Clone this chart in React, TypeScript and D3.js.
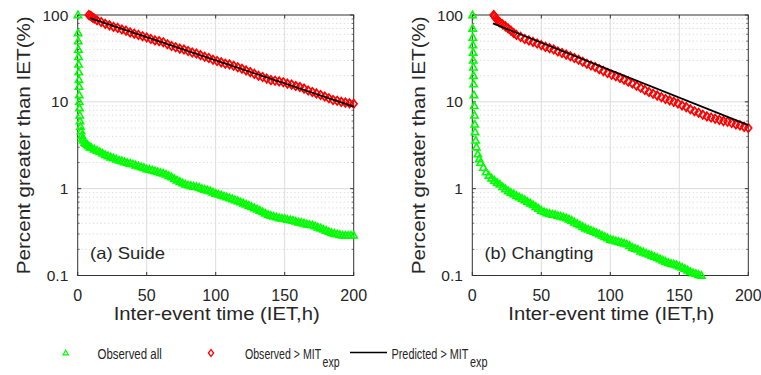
import React from "react";
import * as d3 from "d3";

type Pt = [number, number];

// (a) Suide — observed all events (hours, percent greater than IET)
const suideObservedAll: Pt[] = [
  [0.2, 100], [0.3, 62], [0.4, 50], [0.5, 40], [0.6, 33], [0.7, 27], [0.8, 22], [0.9, 18], [1.0, 15], [1.1, 12], [1.2, 10], [1.3, 8.5],
  [1.5, 7], [1.7, 6], [2, 5.2], [2.4, 4.6], [3, 4.1], [3.5, 3.8], [4, 3.6],
  [5, 3.4], [6, 3.3], [7, 3.2], [8, 3.1], [9, 3.0], [10, 2.95],
  [12, 2.85], [14, 2.75], [16, 2.65], [18, 2.55], [20, 2.45], [22, 2.38], [24, 2.3], [26, 2.25], [28, 2.18], [30, 2.12],
  [32, 2.08], [34, 2.03], [36, 1.98], [38, 1.95], [40, 1.92], [42, 1.86], [44, 1.82], [46, 1.78], [48, 1.74], [50, 1.68],
  [52, 1.66], [54, 1.63], [56, 1.6], [58, 1.56], [60, 1.52], [62, 1.5], [64, 1.46], [66, 1.41], [68, 1.36], [70, 1.3],
  [72, 1.25], [74, 1.2], [76, 1.16], [78, 1.12], [80, 1.1], [82, 1.08], [84, 1.06], [86, 1.05], [88, 1.03], [90, 1.0],
  [92, 0.98], [94, 0.96], [96, 0.94], [98, 0.91], [100, 0.88], [102, 0.86], [104, 0.84], [106, 0.82], [108, 0.8], [110, 0.78],
  [112, 0.76], [114, 0.74], [116, 0.72], [118, 0.7], [120, 0.68], [122, 0.66], [124, 0.64], [126, 0.62], [128, 0.6], [130, 0.58],
  [132, 0.56], [134, 0.54], [136, 0.52], [138, 0.5], [140, 0.49], [142, 0.48], [144, 0.47], [146, 0.46], [148, 0.455], [150, 0.45],
  [152, 0.44], [154, 0.435], [156, 0.43], [158, 0.42], [160, 0.41], [162, 0.405], [164, 0.4], [166, 0.39], [168, 0.385], [170, 0.38],
  [172, 0.37], [174, 0.36], [176, 0.35], [178, 0.34], [180, 0.33], [182, 0.32], [184, 0.31], [186, 0.305], [188, 0.3], [190, 0.295],
  [192, 0.29], [194, 0.29], [196, 0.29], [198, 0.29], [200, 0.29],
];

// (a) Suide — observed > MIT_exp
const suideObservedMit: Pt[] = [
  [8, 100], [9, 98], [10, 96], [11, 93], [12, 91], [14, 87], [17, 83], [20, 79], [23, 76], [26, 73], [29, 71], [32, 68],
  [35, 66], [38, 63], [41, 61], [44, 59], [47, 57], [50, 55], [53, 53], [56, 51], [59, 50], [62, 48.5], [65, 46], [68, 44],
  [71, 42.5], [74, 41], [77, 40], [80, 38.5], [83, 37], [86, 36], [89, 34.5], [92, 33], [95, 32], [98, 30.5], [101, 29.5],
  [104, 28.5], [107, 27.5], [110, 27], [113, 26], [116, 25], [119, 24], [122, 23], [125, 22], [128, 21], [131, 20], [134, 19.3],
  [137, 18.5], [140, 17.8], [143, 17.5], [146, 17.2], [149, 16.8], [152, 16.2], [155, 15.8], [158, 15.2], [161, 14.8], [164, 14.2],
  [167, 13.5], [170, 13], [173, 12.5], [176, 12], [179, 11.5], [182, 11], [185, 10.5], [188, 10.3], [191, 10], [194, 9.8],
  [197, 9.6], [200, 9.5],
];

// (a) Suide — predicted > MIT_exp
const suidePredicted: Pt[] = [[9, 92], [200, 8.8]];

// (b) Changting — observed all events
const changtingObservedAll: Pt[] = [
  [0.2, 100], [0.3, 70], [0.4, 55], [0.5, 45], [0.6, 37], [0.7, 30], [0.8, 25], [0.9, 20], [1.0, 16], [1.2, 12], [1.4, 9],
  [1.6, 7], [1.8, 5.5], [2, 4.5], [2.5, 3.6], [3, 3.0], [4, 2.5], [5, 2.2], [6, 2.0], [8, 1.75], [10, 1.55], [12, 1.42],
  [14, 1.32], [16, 1.24], [18, 1.17], [20, 1.12], [22, 1.05], [24, 0.99], [26, 0.94], [28, 0.9], [30, 0.87], [32, 0.83],
  [34, 0.8], [36, 0.77], [38, 0.74], [40, 0.71], [42, 0.68], [44, 0.65], [46, 0.62], [48, 0.59], [50, 0.56], [52, 0.54],
  [54, 0.525], [56, 0.515], [58, 0.505], [60, 0.5], [62, 0.49], [64, 0.48], [66, 0.47], [68, 0.46], [70, 0.445], [72, 0.43],
  [74, 0.41], [76, 0.395], [78, 0.38], [80, 0.365], [82, 0.35], [84, 0.34], [86, 0.33], [88, 0.32], [90, 0.31], [92, 0.3],
  [94, 0.29], [96, 0.28], [98, 0.27], [100, 0.26], [102, 0.255], [104, 0.25], [106, 0.245], [108, 0.24], [110, 0.235],
  [112, 0.23], [114, 0.22], [116, 0.21], [118, 0.205], [120, 0.2], [122, 0.19], [124, 0.185], [126, 0.18], [128, 0.175],
  [130, 0.17], [132, 0.165], [134, 0.16], [136, 0.155], [138, 0.15], [140, 0.145], [142, 0.14], [144, 0.137], [146, 0.135],
  [148, 0.132], [150, 0.128], [152, 0.124], [154, 0.12], [156, 0.115], [158, 0.11], [160, 0.107], [162, 0.105], [164, 0.102],
  [166, 0.1],
];

// (b) Changting — observed > MIT_exp
const changtingObservedMit: Pt[] = [
  [15.5, 100], [16, 97], [17, 92], [18, 88], [19, 85], [20, 82], [22, 78], [24, 74], [26, 70], [28, 66], [30, 62], [32, 59],
  [35, 56], [38, 53], [41, 51], [44, 49], [47, 47], [50, 45], [53, 43], [56, 41.5], [59, 40], [62, 38], [65, 36.5], [68, 35],
  [71, 33.5], [74, 32], [77, 30.5], [80, 29], [83, 27.5], [86, 26.2], [89, 25.2], [92, 23.8], [95, 22.6], [98, 21.5], [101, 20.5],
  [104, 19.7], [107, 18.9], [110, 18], [113, 17.1], [116, 16.3], [119, 15.3], [122, 14.5], [125, 13.7], [128, 13], [131, 12.4],
  [134, 11.8], [137, 11.3], [140, 10.8], [143, 10.4], [146, 10], [149, 9.6], [152, 9.1], [155, 8.7], [158, 8.2], [161, 7.8],
  [164, 7.5], [167, 7.1], [170, 6.8], [173, 6.6], [176, 6.4], [179, 6.2], [182, 6.0], [185, 5.9], [188, 5.7], [191, 5.5],
  [194, 5.35], [197, 5.15], [200, 5.0],
];

// (b) Changting — predicted > MIT_exp
const changtingPredicted: Pt[] = [[15, 80], [200, 5.4]];

const xTicks = [0, 50, 100, 150, 200];
const yTicks = [0.1, 1, 10, 100];
const yTickLabels = ["0.1", "1", "10", "100"];
const panelLabels = ["(a) Suide", "(b) Changting"];
const panelLabelWidths = [75, 109];
const xTitle = "Inter-event time (IET,h)";
const yTitle = "Percent greater than IET(%)";
const legendLabels = ["Observed all", "Observed > MIT", "Predicted > MIT", "exp"];

const FONT = "'Liberation Sans', Arial, Helvetica, sans-serif";
const TEXT = "#262626";
const GREEN = "#00ff00";
const RED = "#ff0000";

const minorY: number[] = [];
[0.1, 1, 10].forEach((d) => {
  for (let k = 2; k <= 9; k++) minorY.push(d * k);
});

const triPath = (cx: number, cy: number, s = 3.8) =>
  `M${cx},${cy - s}L${cx + s * 0.95},${cy + s * 0.7}L${cx - s * 0.95},${cy + s * 0.7}Z`;
const diaPath = (cx: number, cy: number, w = 3.4, h = 4.2) =>
  `M${cx},${cy - h}L${cx + w},${cy}L${cx},${cy + h}L${cx - w},${cy}Z`;

function Panel({
  left,
  label,
  labelWidth,
  all,
  obs,
  pred,
}: {
  left: number;
  label: string;
  labelWidth: number;
  all: Pt[];
  obs: Pt[];
  pred: Pt[];
}) {
  const top = 15;
  const bottom = 275.5;
  const width = 276;
  const x = d3.scaleLinear().domain([0, 200]).range([left, left + width]);
  const y = d3.scaleLog().domain([0.1, 100]).range([bottom, top]);
  const line = d3
    .line<Pt>()
    .x((d) => x(d[0]))
    .y((d) => y(d[1]));

  return (
    <g>
      <rect x={left} y={top} width={width} height={bottom - top} fill="#fff" />
      {minorY.map((v) => (
        <line
          key={"m" + v}
          x1={left}
          x2={left + width}
          y1={y(v)}
          y2={y(v)}
          stroke="#cfcfcf"
          strokeWidth={0.8}
          strokeDasharray="1.2 2.6"
        />
      ))}
      {xTicks.slice(1, -1).map((v) => (
        <line key={"gx" + v} x1={x(v)} x2={x(v)} y1={top} y2={bottom} stroke="#dcdcdc" strokeWidth={1} />
      ))}
      {yTicks.slice(1, -1).map((v) => (
        <line key={"gy" + v} x1={left} x2={left + width} y1={y(v)} y2={y(v)} stroke="#dcdcdc" strokeWidth={1} />
      ))}
      {xTicks.map((v) => (
        <g key={"tx" + v}>
          <line x1={x(v)} x2={x(v)} y1={bottom} y2={bottom - 3.5} stroke="#333" />
          <line x1={x(v)} x2={x(v)} y1={top} y2={top + 3.5} stroke="#333" />
          <text x={x(v)} y={301} textAnchor="middle" fontSize={16} fill={TEXT} fontFamily={FONT}>
            {v}
          </text>
        </g>
      ))}
      {yTicks.map((v, i) => (
        <g key={"ty" + v}>
          <line x1={left} x2={left + 3.5} y1={y(v)} y2={y(v)} stroke="#333" />
          <line x1={left + width} x2={left + width - 3.5} y1={y(v)} y2={y(v)} stroke="#333" />
          <text x={left - 9.4} y={y(v) + 5.5} textAnchor="end" fontSize={15.5} fill={TEXT} fontFamily={FONT}>
            {yTickLabels[i]}
          </text>
        </g>
      ))}
      {minorY.map((v) => (
        <g key={"mt" + v}>
          <line x1={left} x2={left + 2} y1={y(v)} y2={y(v)} stroke="#555" strokeWidth={0.8} />
          <line x1={left + width} x2={left + width - 2} y1={y(v)} y2={y(v)} stroke="#555" strokeWidth={0.8} />
        </g>
      ))}
      <rect x={left} y={top} width={width} height={bottom - top} fill="none" stroke="#333" strokeWidth={1} />
      {all.map((d, i) => (
        <path key={"a" + i} d={triPath(x(d[0]), y(d[1]))} fill="none" stroke={GREEN} strokeWidth={1.6} />
      ))}
      {obs.map((d, i) => (
        <path key={"o" + i} d={diaPath(x(d[0]), y(d[1]))} fill="none" stroke={RED} strokeWidth={1.7} />
      ))}
      <path d={line(pred) || ""} fill="none" stroke="#000" strokeWidth={1.8} />
      <text
        x={left + 12.3}
        y={259}
        fontSize={16.5}
        fill={TEXT}
        fontFamily={FONT}
        textLength={labelWidth}
        lengthAdjust="spacingAndGlyphs"
      >
        {label}
      </text>
      <text
        x={left + width / 2 + 1}
        y={319.5}
        textAnchor="middle"
        fontSize={17.5}
        fill={TEXT}
        fontFamily={FONT}
        textLength={206}
        lengthAdjust="spacingAndGlyphs"
      >
        {xTitle}
      </text>
      <text
        transform={`translate(${left - 47.7},${(top + bottom) / 2}) rotate(-90)`}
        textAnchor="middle"
        fontSize={19}
        fill={TEXT}
        fontFamily={FONT}
        textLength={258}
        lengthAdjust="spacingAndGlyphs"
      >
        {yTitle}
      </text>
    </g>
  );
}

export default function App() {
  return (
    <svg
      width={761}
      height={375}
      viewBox="0 0 761 375"
      style={{ position: "absolute", left: 0, top: 0, background: "#fff" }}
    >
      <rect width={761} height={375} fill="#fff" />
      <Panel
        left={77.7}
        label={panelLabels[0]}
        labelWidth={panelLabelWidths[0]}
        all={suideObservedAll}
        obs={suideObservedMit}
        pred={suidePredicted}
      />
      <Panel
        left={472.3}
        label={panelLabels[1]}
        labelWidth={panelLabelWidths[1]}
        all={changtingObservedAll}
        obs={changtingObservedMit}
        pred={changtingPredicted}
      />
      <g fontFamily={FONT} fill={TEXT} fontSize={14.5}>
        <path d={triPath(65.7, 353, 2.8)} fill="none" stroke={GREEN} strokeWidth={1.2} />
        <text transform="translate(97.5,358.5) scale(0.79,1)">{legendLabels[0]}</text>
        <path d={diaPath(211, 353, 2.6, 3.4)} fill="none" stroke={RED} strokeWidth={1.3} />
        <text transform="translate(245,358.5) scale(0.73,1)">
          {legendLabels[1]}
          <tspan dx={2} dy={8.5} fontSize={14.5}>
            {legendLabels[3]}
          </tspan>
        </text>
        <line x1={350} x2={387} y1={352.5} y2={352.5} stroke="#000" strokeWidth={1.4} />
        <text transform="translate(391.5,358.5) scale(0.75,1)">
          {legendLabels[2]}
          <tspan dx={2} dy={8.5} fontSize={14.5}>
            {legendLabels[3]}
          </tspan>
        </text>
      </g>
    </svg>
  );
}
